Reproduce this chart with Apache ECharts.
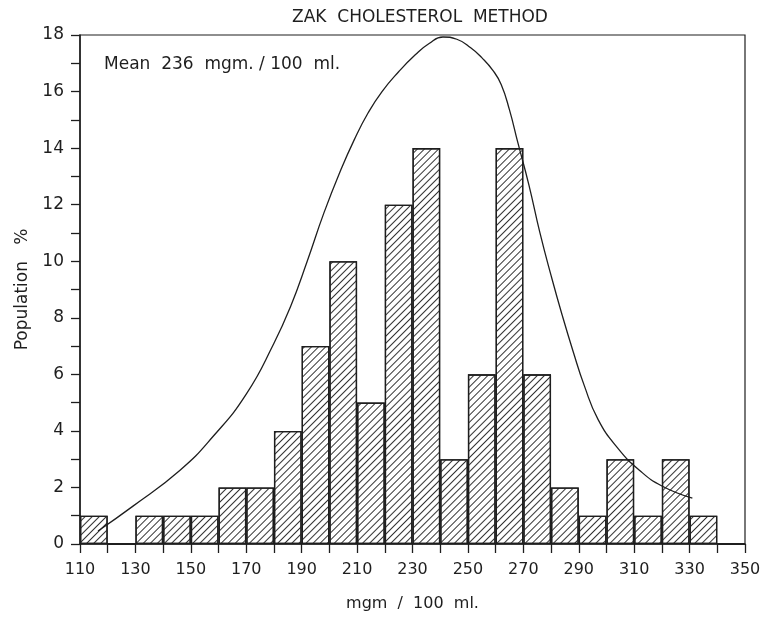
<!DOCTYPE html>
<html>
<head>
<meta charset="utf-8">
<script src="https://cdn.jsdelivr.net/npm/echarts@6/dist/echarts.min.js"></script>
<style>
  html, body { margin: 0; padding: 0; background: #fff; }
  #chart { width: 778px; height: 617px; }
</style>
</head>
<body>
<div id="chart"></div>
<script>
// histogram bins, 10 mgm wide
const binStarts = [110, 120, 130, 140, 150, 160, 170, 180, 190, 200, 210, 220,
  230, 240, 250, 260, 270, 280, 290, 300, 310, 320, 330, 340];
const population = [1, 0, 1, 1, 1, 2, 2, 4, 7, 10, 5, 12,
  14, 3, 6, 14, 6, 2, 1, 3, 1, 3, 1, 0];

// fitted curve
const curveX = [116.5, 129, 146, 158, 170, 180, 186, 192, 198, 204, 209, 214,
  219, 225, 231, 236, 241, 246, 251, 255, 259, 262, 265, 268, 272, 276, 280,
  284, 288, 292, 297, 304, 312, 320, 331];
const curveY = [0.46, 1.33, 2.6, 3.8, 5.3, 7.1, 8.4, 10.0, 11.7, 13.2, 14.3, 15.25,
  16.0, 16.7, 17.3, 17.7, 17.93, 17.85, 17.55, 17.2, 16.75, 16.25, 15.35, 14.2, 12.7, 11.0, 9.5,
  8.1, 6.8, 5.6, 4.4, 3.4, 2.6, 2.05, 1.62];

const ink = '#1e1e1e';
const font = 'DejaVu Sans';

const chart = echarts.init(document.getElementById('chart'));

const option = {
  backgroundColor: '#fff',
  animation: false,
  title: {
    text: 'ZAK  CHOLESTEROL  METHOD',
    left: 415,
    textAlign: 'center',
    top: 4,
    textStyle: { fontFamily: font, fontWeight: 'normal', fontSize: 17, color: ink }
  },
  graphic: [{
    type: 'text',
    left: 104,
    top: 56,
    style: { text: 'Mean  236  mgm. / 100  ml.', fontFamily: font, fontSize: 17, fill: ink }
  }],
  grid: {
    left: 80, right: 33, top: 35, bottom: 69,
    show: true, borderColor: ink, borderWidth: 1.2, backgroundColor: 'transparent'
  },
  xAxis: [{
    type: 'value',
    min: 110, max: 350, interval: 10,
    name: 'mgm  /  100  ml.',
    nameLocation: 'middle',
    nameGap: 52,
    nameTextStyle: { fontFamily: font, fontSize: 16, color: ink },
    axisLine: { lineStyle: { color: ink, width: 1.5 } },
    axisTick: { length: 9, lineStyle: { color: ink, width: 1.3 } },
    splitLine: { show: false },
    axisLabel: {
      fontFamily: font, fontSize: 16, color: ink, margin: 18,
      formatter: v => ((v - 110) % 20 === 0 ? String(v) : '')
    }
  }, {
    type: 'category',
    data: binStarts,
    show: false,
    boundaryGap: true
  }],
  yAxis: {
    type: 'value',
    min: 0, max: 18, interval: 1,
    name: 'Population   %',
    nameLocation: 'middle',
    nameGap: 38,
    nameTextStyle: { fontFamily: font, fontSize: 17, color: ink },
    axisLine: { show: true, lineStyle: { color: ink, width: 1.5 } },
    axisTick: { show: true, length: 9, lineStyle: { color: ink, width: 1.3 } },
    splitLine: { show: false },
    axisLabel: {
      fontFamily: font, fontSize: 17, color: ink, margin: 16,
      formatter: v => (v % 2 === 0 ? String(v) : '')
    }
  },
  series: [{
    type: 'bar',
    xAxisIndex: 1,
    data: population,
    barWidth: '100%',
    barGap: '0%',
    itemStyle: {
      color: '#fff',
      borderColor: ink,
      borderWidth: 1.3,
      decal: {
        symbol: 'rect',
        symbolSize: 1,
        dashArrayX: [1, 0],
        dashArrayY: [1, 4],
        rotation: -Math.PI / 4,
        color: '#333'
      }
    },
    z: 2
  }, {
    type: 'line',
    data: curveX.map((x, i) => [x, curveY[i]]),
    smooth: 0.5,
    showSymbol: false,
    lineStyle: { color: ink, width: 1.3 },
    z: 3
  }]
};

chart.setOption(option);
</script>
</body>
</html>
